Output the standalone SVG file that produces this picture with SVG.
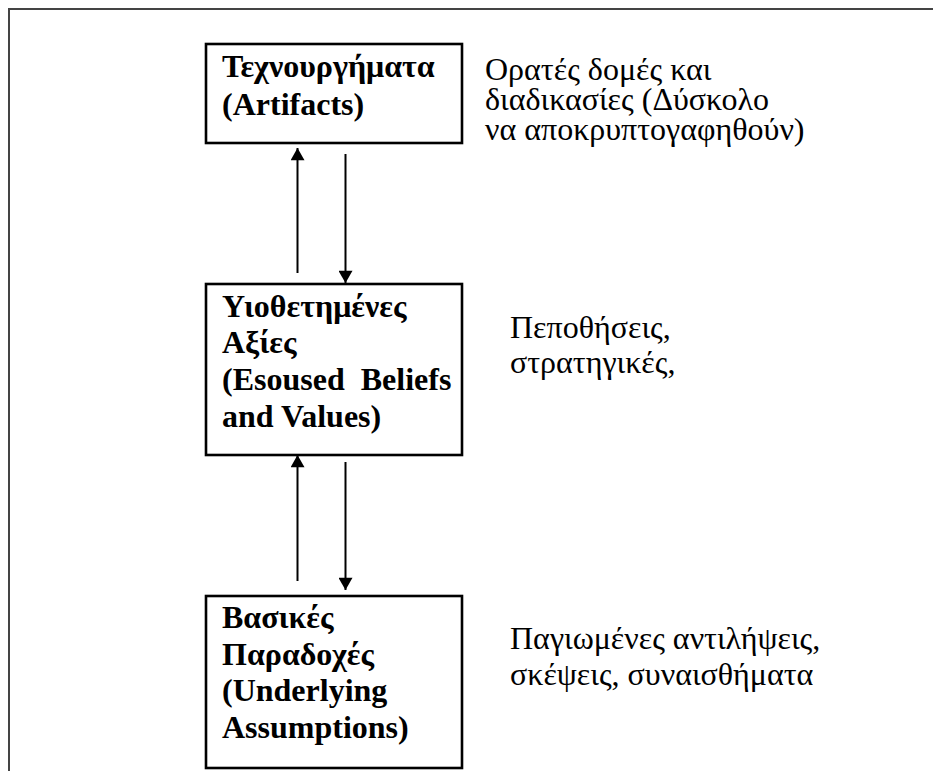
<svg xmlns="http://www.w3.org/2000/svg" width="933" height="771" viewBox="0 0 933 771">
<style>
.box{fill:#fff;stroke:#000;stroke-width:2.6}
.bt{font-family:"Liberation Serif","Times New Roman",serif;font-weight:bold;font-size:32px;fill:#000}
.nt{font-family:"Liberation Serif","Times New Roman",serif;font-size:32px;fill:#000}
.con{stroke:#000;stroke-width:2;fill:none;marker-end:url(#ah)}
</style>
<defs>
<marker id="ah" markerUnits="userSpaceOnUse" markerWidth="16" markerHeight="14" refX="14" refY="8" orient="auto" viewBox="0 0 14 16">
<path d="M0,0 L14,8 L0,16 Z" fill="#000"/>
</marker>
</defs>
<rect width="933" height="771" fill="#fff"/>
<path d="M9,771 V9 H933" fill="none" stroke="#444" stroke-width="2"/>
<g id="artifacts">
<rect class="box" x="206" y="44" width="256" height="99"/>
<text class="bt"><tspan x="222" y="77">Τεχνουργήματα</tspan><tspan x="222" y="115">(Artifacts)</tspan></text>
</g>
<g id="values">
<rect class="box" x="206" y="284" width="256" height="171"/>
<text class="bt" xml:space="preserve"><tspan x="222" y="317">Υιοθετημένες</tspan><tspan x="222" y="353">Αξίες</tspan><tspan x="222" y="390">(Esoused  Beliefs</tspan><tspan x="222" y="427">and Values)</tspan></text>
</g>
<g id="assumptions">
<rect class="box" x="206" y="596" width="256" height="172"/>
<text class="bt"><tspan x="222" y="628">Βασικές</tspan><tspan x="222" y="665">Παραδοχές</tspan><tspan x="222" y="701">(Underlying</tspan><tspan x="222" y="738">Assumptions)</tspan></text>
</g>
<g id="note-artifacts">
<text class="nt"><tspan x="485" y="80">Ορατές δομές και</tspan><tspan x="485" y="110">διαδικασίες (Δύσκολο</tspan><tspan x="485" y="140">να αποκρυπτογαφηθούν)</tspan></text>
</g>
<g id="note-values">
<text class="nt"><tspan x="510" y="338">Πεποθήσεις,</tspan><tspan x="510" y="373">στρατηγικές,</tspan></text>
</g>
<g id="note-assumptions">
<text class="nt"><tspan x="510" y="649">Παγιωμένες αντιλήψεις,</tspan><tspan x="510" y="685">σκέψεις, συναισθήματα</tspan></text>
</g>
<g id="connectors">
<line class="con" x1="297.5" y1="273" x2="297.5" y2="148"/>
<line class="con" x1="345.5" y1="154" x2="345.5" y2="283"/>
<line class="con" x1="297.5" y1="581" x2="297.5" y2="455"/>
<line class="con" x1="345.5" y1="462" x2="345.5" y2="590"/>
</g>
</svg>
